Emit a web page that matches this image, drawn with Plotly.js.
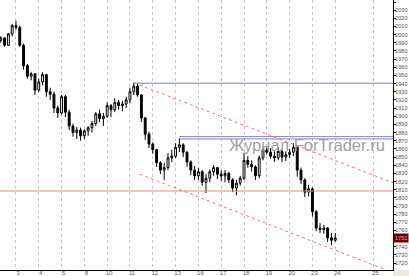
<!DOCTYPE html>
<html>
<head>
<meta charset="utf-8">
<script src="https://cdn.plot.ly/plotly-3.0.1.min.js"></script>
<style>html,body{margin:0;padding:0;background:#fff;}#chart{width:409px;height:276px;}</style>
</head>
<body>
<div id="chart"></div>
<script>
// bar index (6 H4 bars per day)
const barIndex = Array.from({length: 89}, (_, k) => k - 4);
const open  = [1993,1996,1987,2001,2011,2009,1987,1962,1949,1952,1932,1942,1951,1930,1927,1910,1904,1924,1905,1888,1880,1883,1876,1882,1886,1891,1903,1897,1900,1913,1908,1917,1913,1915,1920,1930,1937,1926,1898,1878,1866,1859,1843,1834,1837,1849,1851,1862,1865,1856,1844,1834,1827,1832,1819,1824,1832,1837,1829,1827,1830,1822,1812,1818,1824,1846,1841,1838,1827,1849,1859,1856,1851,1849,1857,1850,1853,1856,1862,1834,1822,1807,1811,1783,1763,1761,1763,1751,1748];
const high  = [1998,1997,2002,2013,2017,2011,1989,1964,1954,1953,1946,1954,1952,1935,1930,1913,1926,1926,1908,1891,1887,1886,1884,1888,1894,1905,1908,1904,1917,1915,1922,1920,1919,1924,1935,1941,1940,1927,1899,1881,1868,1860,1845,1843,1855,1859,1867,1873,1867,1857,1846,1839,1837,1834,1829,1835,1840,1838,1834,1834,1832,1824,1822,1827,1855,1851,1846,1840,1852,1862,1862,1861,1857,1862,1860,1857,1860,1867,1864,1837,1824,1816,1813,1785,1769,1767,1764,1757,1757];
const low   = [1990,1985,1986,1998,2006,1985,1957,1946,1944,1926,1930,1938,1924,1920,1904,1898,1902,1899,1883,1875,1872,1870,1872,1876,1880,1888,1893,1888,1898,1899,1905,1908,1906,1910,1916,1926,1924,1893,1871,1861,1854,1838,1829,1822,1834,1844,1849,1856,1850,1838,1828,1822,1822,1815,1806,1819,1827,1823,1821,1819,1818,1807,1803,1815,1822,1837,1832,1822,1824,1846,1853,1848,1844,1846,1844,1845,1849,1851,1826,1817,1801,1802,1777,1759,1757,1756,1746,1742,1746];
const close = [1996,1987,2001,2011,2009,1987,1962,1949,1952,1932,1942,1951,1930,1927,1910,1904,1924,1905,1888,1880,1883,1876,1882,1886,1891,1903,1897,1900,1913,1908,1917,1913,1915,1920,1930,1937,1926,1898,1878,1866,1859,1843,1834,1837,1849,1851,1862,1865,1856,1844,1834,1827,1832,1819,1824,1832,1837,1829,1827,1830,1822,1812,1818,1824,1846,1841,1838,1827,1849,1859,1856,1851,1849,1857,1850,1853,1856,1862,1834,1822,1807,1811,1783,1763,1761,1763,1751,1748,1751];

// day separators
const dayTicks  = [0,6,12,18,24,30,36,42,48,54,60,66,72,78,84,94];
const dayLabels = ["3","4","5","8","10","11","12","13","16","17","18","19","20","23","24","25"];

// price scale ticks (1750 is covered by the last-price box)
const priceTicks  = [1720,1730,1740,1750,1760,1770,1780,1790,1800,1810,1820,1830,1840,1850,1860,1870,1880,1890,1900,1910,1920,1930,1940,1950,1960,1970,1980,1990,2000,2010,2020,2030,2040];
const priceLabels = ["1720","1730","1740","","1760","1770","1780","1790","1800","1810","1820","1830","1840","1850","1860","1870","1880","1890","1900","1910","1920","1930","1940","1950","1960","1970","1980","1990","2000","2010","2020","2030","2040"];

// drawn objects
const blueLevelX = [31, 99.2];   const blueLevelY = [1940.5, 1940.5];
const blueDblAX = [43, 99.2];    const blueDblAY = [1875, 1875];
const blueDblBX = [43, 99.2];    const blueDblBY = [1872.2, 1872.2];
const redLevelX = [-4.2, 99.2];  const redLevelY = [1808.4, 1808.4];
const chanUpX = [31, 99.2];      const chanUpY = [1941, 1818.5];
const chanLoX = [32.6, 97.2];    const chanLoY = [1829, 1712];
const lastPrice = 1751;

const lineTrace = (x, y, color, dash) => ({
  type: 'scatter', mode: 'lines', x: x, y: y, hoverinfo: 'skip', showlegend: false,
  line: {color: color, width: 1, dash: dash || 'solid'}
});

const data = [
  {
    type: 'candlestick', x: barIndex, open: open, high: high, low: low, close: close,
    showlegend: false, hoverinfo: 'skip', whiskerwidth: 0,
    increasing: {line: {color: '#000', width: 1}, fillcolor: '#ffffff'},
    decreasing: {line: {color: '#000', width: 1}, fillcolor: '#000000'}
  },
  lineTrace(redLevelX, redLevelY, '#f08080'),
  lineTrace(blueLevelX, blueLevelY, '#7f7fc8'),
  lineTrace(blueDblAX, blueDblAY, '#7f7fd0'),
  lineTrace(blueDblBX, blueDblBY, '#7f7fd0'),
  lineTrace(chanUpX, chanUpY, '#ff7070', 'dot'),
  lineTrace(chanLoX, chanLoY, '#ff7070', 'dot')
];

const layout = {
  width: 409, height: 276,
  margin: {l: 0, r: 16, t: 0, b: 6, pad: 0},
  paper_bgcolor: '#ffffff', plot_bgcolor: '#ffffff',
  showlegend: false,
  font: {family: 'Liberation Sans, Arial, sans-serif', color: '#444'},
  xaxis: {
    range: [-4.2, 99.2], rangeslider: {visible: false},
    tickmode: 'array', tickvals: dayTicks, ticktext: dayLabels,
    showgrid: true, gridcolor: '#c8c8c8', griddash: 'dot', gridwidth: 1,
    zeroline: false, showline: true, linecolor: '#000', linewidth: 1,
    ticks: '', tickfont: {size: 6, color: '#555'}, ticklabelshift: 2, ticklabelstandoff: -3,
    fixedrange: true
  },
  yaxis: {
    side: 'right', range: [1711.6, 2042.45],
    tickmode: 'array', tickvals: priceTicks, ticktext: priceLabels,
    showgrid: false, zeroline: false, showline: true, linecolor: '#000', linewidth: 1,
    ticks: 'outside', ticklen: 2, tickcolor: '#000', tickwidth: 1,
    tickfont: {size: 5.6, color: '#555'}, ticklabelstandoff: -2,
    fixedrange: true
  },
  annotations: [
    {xref: 'paper', yref: 'paper', x: 0.577, y: 0.463, xanchor: 'left', yanchor: 'middle',
     text: 'Журнал ForTrader.ru', showarrow: false,
     font: {family: 'Liberation Sans, Arial, sans-serif', size: 16.5, color: '#a0a0a0'}},
    {xref: 'paper', yref: 'y', x: 1, y: lastPrice, xanchor: 'left', yanchor: 'middle',
     text: String(lastPrice), showarrow: false, bgcolor: '#6e0000', borderpad: 1,
     font: {size: 5.6, color: '#ff9a9a'}}
  ],
  shapes: [
    {type: 'rect', xref: 'paper', yref: 'paper', x0: 1.0, x1: 1.045, y0: -0.025, y1: 0.0,
     fillcolor: '#efeadb', line: {width: 0}, layer: 'below'}
  ]
};

Plotly.newPlot('chart', data, layout, {staticPlot: true, displayModeBar: false});
</script>
</body>
</html>
